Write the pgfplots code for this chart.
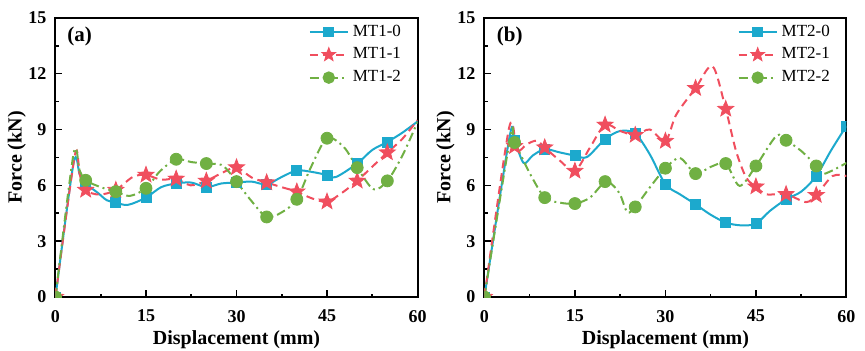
\documentclass[border=0pt]{standalone}
\usepackage{pgfplots}
\pgfplotsset{compat=1.18}
\usepackage{fontspec}
\setmainfont{Liberation Serif}
\definecolor{cblue}{RGB}{28,169,205}
\definecolor{cred}{RGB}{240,78,94}
\definecolor{cgreen}{RGB}{112,176,67}
\pgfdeclareplotmark{fstar}{%
  \pgfpathmoveto{\pgfpointpolar{90}{\pgfplotmarksize}}%
  \pgfpathlineto{\pgfpointpolar{126}{0.42\pgfplotmarksize}}%
  \pgfpathlineto{\pgfpointpolar{162}{\pgfplotmarksize}}%
  \pgfpathlineto{\pgfpointpolar{198}{0.42\pgfplotmarksize}}%
  \pgfpathlineto{\pgfpointpolar{234}{\pgfplotmarksize}}%
  \pgfpathlineto{\pgfpointpolar{270}{0.42\pgfplotmarksize}}%
  \pgfpathlineto{\pgfpointpolar{306}{\pgfplotmarksize}}%
  \pgfpathlineto{\pgfpointpolar{342}{0.42\pgfplotmarksize}}%
  \pgfpathlineto{\pgfpointpolar{18}{\pgfplotmarksize}}%
  \pgfpathlineto{\pgfpointpolar{54}{0.42\pgfplotmarksize}}%
  \pgfpathclose
  \pgfusepathqfillstroke
}
\pgfplotsset{
  panel/.style={
    scale only axis, width=181pt, height=139.6pt,
    xmin=0, xmax=60, ymin=0, ymax=15,
    xtick={0,15,30,45,60}, ytick={0,3,6,9,12,15},
    minor x tick num=1, minor y tick num=1,
    tick align=inside, xtick pos=bottom, ytick pos=left,
    major tick length=3.5pt, minor tick length=1.75pt,
    axis line style={line width=1pt},
    every tick/.append style={line width=0.8pt, black},
    ticklabel style={font=\bfseries\fontsize{9}{10}\selectfont},
    xticklabel shift=3pt, yticklabel shift=1pt,
    /pgf/number format/assume math mode=true,
    xlabel={Displacement (mm)}, ylabel={Force (kN)},
    label style={font=\bfseries\fontsize{10}{12}\selectfont},
    xlabel style={at={(axis description cs:0.5,-0.154)}, anchor=center},
    ylabel style={at={(axis description cs:-0.107,0.5)}, anchor=center},
    clip mode=individual, clip marker paths=true,
    legend style={draw=none, fill=none, at={(0.972,0.998)}, anchor=north east,
      font=\fontsize{8.5}{10}\selectfont, row sep=0.3pt, inner sep=1pt},
    legend cell align=left,
    legend image code/.code={\draw[mark repeat=2,mark phase=2] plot coordinates {(0pt,0pt) (9.5pt,0pt) (19pt,0pt)};},
  },
  sb/.style={cblue, line width=1pt, solid},
  sr/.style={cred, line width=1pt, dash pattern=on 4pt off 2.5pt},
  sg/.style={cgreen, line width=1pt, dash pattern=on 4.5pt off 2pt on 1pt off 2pt},
  mb/.style={cblue, only marks, mark=square*, mark size=2.5pt, mark options={solid}},
  mr/.style={cred, only marks, mark=fstar, mark size=4.2pt, mark options={solid, fill=cred, line width=0.4pt}},
  mg/.style={cgreen, only marks, mark=*, mark size=3pt, mark options={solid}},
}
\begin{document}
\begin{tikzpicture}
\useasboundingbox (0,0) rectangle (432.5pt,175pt);
% ---------------- panel (a)
\begin{axis}[panel, at={(27.75pt,26.5pt)}, anchor=south west]
\addlegendimage{sb, mark=square*, mark size=2.2pt, mark options={solid}}
\addlegendentry{MT1-0}
\addlegendimage{sr, mark=fstar, mark size=3.6pt, mark options={solid, fill=cred, line width=0.4pt}}
\addlegendentry{MT1-1}
\addlegendimage{sg, mark=*, mark size=2.6pt, mark options={solid}}
\addlegendentry{MT1-2}
\addplot[sb, smooth, forget plot] table {
x y
0 0
3 7.2
4 6.6
5 6.1
7 5.6
8.5 5.2
10 5.07
12 4.95
15 5.34
17.5 5.9
20 6.1
22.5 6.15
25 5.9
27.5 6.1
30 6.15
32.5 6.2
35 6.05
37.5 6.45
40 6.8
42.5 6.72
45 6.56
46.5 6.45
50 7.17
52.5 7.9
55 8.33
57.5 8.83
60 9.43
};
\addplot[sr, smooth, forget plot] table {
x y
0 0
3.2 7.6
4 6.6
5 5.75
7.3 5.5
10 5.75
12.8 6.45
15 6.56
17.5 6.3
20 6.35
22.4 6.0
25 6.24
27.5 6.65
30 6.96
32.5 6.42
35 6.15
37.5 5.9
40 5.66
42.5 5.3
45 5.12
47.5 5.6
50 6.24
52.5 7.0
55 7.76
57.5 8.5
60 9.5
};
\addplot[sg, smooth, forget plot] table {
x y
0 0
3 7.7
4 6.8
5 6.27
7.5 5.9
10 5.66
12.3 5.43
15 5.84
17.3 6.75
20 7.4
22.5 7.25
25 7.17
27.5 7.1
28.8 6.7
30 6.2
32.5 5.15
35 4.3
37.5 4.55
40 5.25
42.3 6.95
45 8.53
47.8 8.05
50 6.95
52.7 5.79
55 6.24
57.5 7.6
60 9.4
};
\addplot[mb, forget plot] table {
x y
0 0
5 6.1
10 5.07
15 5.34
20 6.1
25 5.9
30 6.15
35 6.05
40 6.8
45 6.56
50 7.17
55 8.33
};
\addplot[mr, forget plot] table {
x y
0 0
5 5.75
10 5.75
15 6.56
20 6.35
25 6.24
30 6.96
35 6.15
40 5.66
45 5.12
50 6.24
55 7.76
};
\addplot[mg, forget plot] table {
x y
0 0
5 6.27
10 5.66
15 5.84
20 7.4
25 7.17
30 6.2
35 4.3
40 5.25
45 8.53
50 6.95
55 6.24
};
\node[font=\bfseries\fontsize{10.5}{12}\selectfont] at (axis cs:4,14.0) {(a)};
\end{axis}
% ---------------- panel (b)
\begin{axis}[panel, at={(242.2pt,26.5pt)}, anchor=south west]
\addlegendimage{sb, mark=square*, mark size=2.2pt, mark options={solid}}
\addlegendentry{MT2-0}
\addlegendimage{sr, mark=fstar, mark size=3.6pt, mark options={solid, fill=cred, line width=0.4pt}}
\addlegendentry{MT2-1}
\addlegendimage{sg, mark=*, mark size=2.6pt, mark options={solid}}
\addlegendentry{MT2-2}
\addplot[sb, smooth, forget plot] table {
x y
0 0
4.2 8.66
5 8.4
6.5 7.2
8 7.6
10 7.94
12.6 7.76
15 7.6
17 7.52
20 8.48
22.5 8.92
25 8.78
27.4 7.67
30 6.06
32.4 5.52
35 4.98
37.4 4.44
40 4.0
42.5 3.85
45 3.94
47.3 4.62
50 5.25
52.5 5.66
55 6.5
57.5 7.9
60 9.19
};
\addplot[sr, smooth, forget plot] table {
x y
0 0
4.1 9.1
5.4 7.85
7 8.2
8.7 8.4
10 8.03
12.6 7.3
15 6.77
17.5 8.03
20 9.25
22.5 8.92
25 8.7
27.4 9.0
30 8.38
31.8 9.8
35 11.22
37.8 12.4
40 10.1
41.7 7.85
43.4 6.41
45 5.93
46.7 5.52
50 5.52
53.3 5.1
55 5.47
57.7 6.5
60 6.5
};
\addplot[sg, smooth, forget plot] table {
x y
0 0
4.3 8.6
5 8.3
7.6 6.6
10 5.34
12.5 5.07
15 5.02
17.5 5.34
20 6.2
21.3 6.0
22.5 5.5
23.7 4.55
25 4.84
27.4 5.88
30 6.92
32.4 7.47
35 6.63
37.5 6.99
40 7.17
42.3 5.97
45 7.04
48.4 8.66
50 8.42
52.5 7.85
55 7.04
55.8 6.6
57.5 6.77
60 7.2
};
\addplot[mb, forget plot] table {
x y
0 0
5 8.4
10 7.94
15 7.6
20 8.48
25 8.78
30 6.06
35 4.98
40 4.0
45 3.94
50 5.25
55 6.5
60 9.19
};
\addplot[mr, forget plot] table {
x y
0 0
5 8.1
10 8.03
15 6.77
20 9.25
25 8.7
30 8.38
35 11.22
40 10.1
45 5.93
50 5.52
55 5.47
};
\addplot[mg, forget plot] table {
x y
0 0
5 8.3
10 5.34
15 5.02
20 6.2
25 4.84
30 6.92
35 6.63
40 7.17
45 7.04
50 8.42
55 7.04
};
\node[font=\bfseries\fontsize{10.5}{12}\selectfont] at (axis cs:4.2,14.0) {(b)};
\end{axis}
\end{tikzpicture}
\end{document}
